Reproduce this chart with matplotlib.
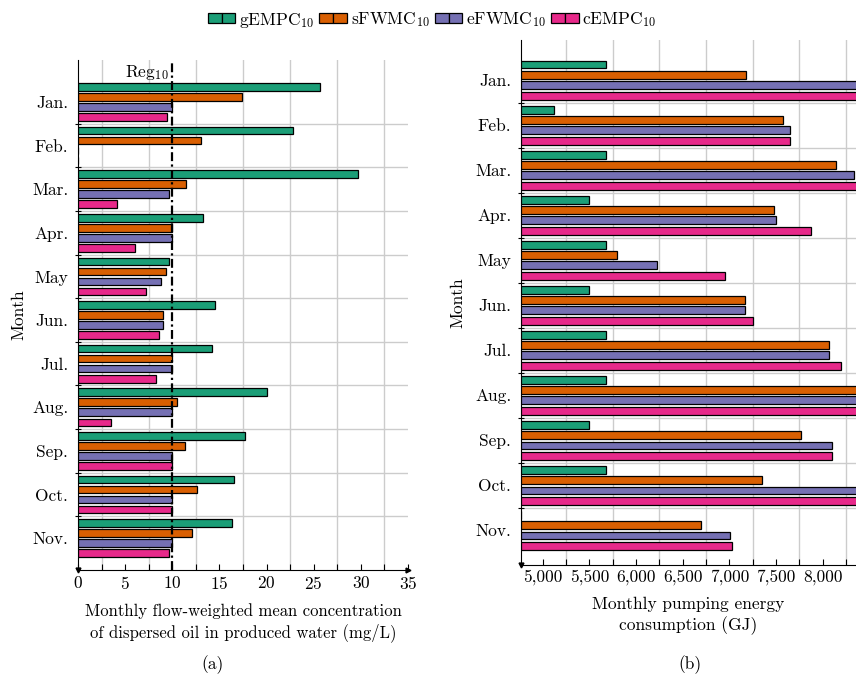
import numpy as np
import matplotlib
matplotlib.use("Agg")
import matplotlib.pyplot as plt
from matplotlib.patches import Patch
from matplotlib.legend_handler import HandlerTuple
from matplotlib.ticker import FuncFormatter, MultipleLocator, FixedLocator

plt.rcParams["font.family"] = ["cmr10", "DejaVu Serif"]
plt.rcParams["mathtext.fontset"] = "cm"
plt.rcParams["axes.formatter.use_mathtext"] = True

months = ["Jan.", "Feb.", "Mar.", "Apr.", "May", "Jun.", "Jul.", "Aug.", "Sep.", "Oct.", "Nov."]
series = [r"gEMPC$_{10}$", r"sFWMC$_{10}$", r"eFWMC$_{10}$", r"cEMPC$_{10}$"]
colors = ["#1b9e77", "#d95f02", "#7570b3", "#e7298a"]

# (a) dispersed oil concentration, mg/L
oil_g = [25.7, 22.8, 29.7, 13.3, 9.6, 14.5, 14.2, 20.0, 17.7, 16.5, 16.3]
oil_s = [17.4, 13.0, 11.5, 10.0, 9.3, 9.0, 10.0, 10.5, 11.4, 12.6, 12.1]
oil_e = [10.0, 0, 9.6, 10.0, 8.8, 9.0, 10.0, 10.0, 10.0, 10.0, 10.0]
oil_c = [9.45, 0, 4.1, 6.0, 7.2, 8.6, 8.3, 3.5, 10.0, 10.0, 9.7]
reg_limit = 10

# (b) pumping energy, GJ (values past the right edge are clipped)
en_g = [5680, 5125, 5680, 5495, 5680, 5495, 5680, 5680, 5495, 5680, 0]
en_s = [7180, 7570, 8145, 7480, 5800, 7170, 8070, 8500, 7770, 7355, 6700]
en_e = [8550, 7650, 8340, 7500, 6220, 7170, 8070, 8500, 8100, 8550, 7010]
en_c = [8600, 7650, 8450, 7875, 6950, 7255, 8200, 8500, 8100, 8600, 7025]

W, H = 856, 682
fig = plt.figure(figsize=(W / 100, H / 100), dpi=100)

def box(l, t, r, b):
    return [l / W, 1 - b / H, (r - l) / W, (b - t) / H]

ax1 = fig.add_axes(box(78, 60, 408, 570))
ax2 = fig.add_axes(box(521, 40, 856, 565))

y = np.arange(len(months))
step = 0.23
hgt = 0.175
fs = 12

def draw(ax, data, left=0):
    for i, (vals, col) in enumerate(zip(data, colors)):
        v = np.array(vals, dtype=float)
        w = np.where(v > 0, v - left, 0)
        ax.barh(y + (i - 1.5) * step, w, left=left, height=hgt, color=col,
                edgecolor="black", linewidth=0.9, zorder=3)
    ax.set_yticks(y)
    ax.set_yticklabels(months, fontsize=fs + 0.5)
    ax.yaxis.set_minor_locator(FixedLocator(y[:-1] + 0.5))
    ax.tick_params(axis="y", which="major", length=0, pad=7)
    ax.tick_params(axis="y", which="minor", direction="inout", length=5, width=0.8)
    ax.tick_params(axis="x", which="both", direction="in", length=4, width=0.8, labelsize=fs + 0.5)
    ax.grid(axis="y", which="minor", color="#cccccc", linewidth=1, zorder=0)
    ax.grid(axis="x", which="minor", color="#cccccc", linewidth=1, zorder=0)
    for s in ["top", "right"]:
        ax.spines[s].set_visible(False)
    ax.set_ylabel("Month", fontsize=fs + 0.5)
    ax.plot(0, 0, marker="v", color="black", markersize=3.5, transform=ax.transAxes, clip_on=False, zorder=5)

# left panel
draw(ax1, [oil_g, oil_s, oil_e, oil_c])
ax1.set_xlim(0, 35)
ax1.set_ylim(10.73, -0.96)
ax1.xaxis.set_major_locator(MultipleLocator(5))
ax1.xaxis.set_minor_locator(MultipleLocator(2.5))
ax1.plot(1, 0, marker=">", color="black", markersize=3.5, transform=ax1.transAxes, clip_on=False, zorder=5)
ax1.axvline(reg_limit, color="black", linestyle=(0, (4, 1.5, 1, 1.5)), linewidth=1.6, zorder=4)
ax1.text(reg_limit - 0.4, -0.67, r"Reg$_{10}$", ha="right", va="center", fontsize=fs + 0.5)
ax1.set_xlabel("Monthly flow-weighted mean concentration\nof dispersed oil in produced water (mg/L)",
               fontsize=fs, labelpad=8, linespacing=1.3)
ax1.yaxis.set_label_coords(-0.155, 0.5)

# right panel
draw(ax2, [en_g, en_s, en_e, en_c], left=4768)
ax2.set_xlim(4768, 8357)
ax2.set_ylim(10.77, -0.89)
ax2.xaxis.set_major_locator(FixedLocator(np.arange(5000, 8001, 500)))
ax2.xaxis.set_minor_locator(FixedLocator(np.arange(5250, 8400, 500)))
ax2.xaxis.set_major_formatter(FuncFormatter(lambda v, p: f"{v:,.0f}"))
ax2.tick_params(axis="x", which="minor", length=4)
ax2.set_xlabel("Monthly pumping energy\nconsumption (GJ)", fontsize=fs + 0.5, labelpad=8, linespacing=1.3)
ax2.yaxis.set_label_coords(-0.165, 0.5)
ax2.set_xlim(4768, 8357)

fig.text(213 / W, 1 - 665 / H, "(a)", ha="center", va="center", fontsize=fs + 0.5)
fig.text(690 / W, 1 - 665 / H, "(b)", ha="center", va="center", fontsize=fs + 0.5)

handles = [(Patch(facecolor=c, edgecolor="black", linewidth=0.9),
            Patch(facecolor=c, edgecolor="black", linewidth=0.9)) for c in colors]
fig.legend(handles, series, loc="center", bbox_to_anchor=(432 / W, 1 - 20 / H), ncol=4,
           frameon=False, fontsize=fs + 0.5, handler_map={tuple: HandlerTuple(ndivide=None, pad=0)},
           handlelength=1.6, handleheight=0.5, handletextpad=0.2, columnspacing=0.3)

fig.savefig("out.png", dpi=100)
